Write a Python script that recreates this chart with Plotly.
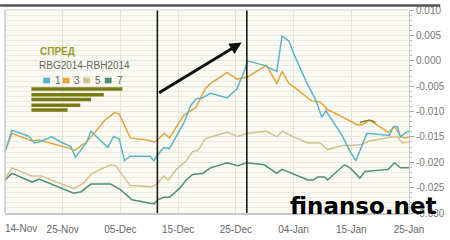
import plotly.graph_objects as go

# ---- data (x in trading-day units, tick every 10 units) ----
tick_pos = [0, 10, 20, 30, 40, 50, 60, 70]
tick_labels = ["14-Nov", "25-Nov", "05-Dec", "15-Dec", "25-Dec", "04-Jan", "15-Jan", "25-Jan"]

y_ticks = [0.010, 0.005, 0.0, -0.005, -0.010, -0.015, -0.020, -0.025, -0.030]
y_labels = ["0.010", "0.005", "0.000", "-0.005", "-0.010", "-0.015", "-0.020", "-0.025", "-0.030"]

s1_x = [0, 1.2, 4.2, 5.1, 5.9, 8.1, 9.7, 11.4, 12.2, 14.1, 14.9, 17.8, 18.8, 19.8, 20.7, 21.7,
        25.1, 25.8, 26.4, 27.5, 28.5, 29.7, 31.0, 32.2, 33.1, 34.2, 35.6, 38.5, 40.2, 41.5, 42.0,
        44.9, 47.1, 48.0, 49.2, 50.0, 52.2, 53.9, 54.9, 55.6, 58.5, 59.8, 60.8, 62.7, 66.6, 67.3,
        68.0, 68.5, 69.5, 70.0]
s1_y = [-0.0179, -0.0137, -0.0149, -0.0162, -0.0160, -0.0150, -0.0160, -0.0169, -0.0190, -0.0162,
        -0.0139, -0.0171, -0.0149, -0.0154, -0.0197, -0.0188, -0.0188, -0.0197, -0.0186, -0.0171,
        -0.0173, -0.0149, -0.0122, -0.0088, -0.0075, -0.0073, -0.0064, -0.0073, -0.0055, -0.0019,
        0.0000, -0.0009, -0.0021, 0.0049, 0.0039, 0.0015, -0.0041, -0.0079, -0.0111, -0.0098,
        -0.0149, -0.0179, -0.0197, -0.0143, -0.0147, -0.0130, -0.0130, -0.0150, -0.0141, -0.0139]

s3_x = [0, 1.2, 4.7, 5.9, 11.4, 12.0, 14.1, 15.3, 17.3, 19.0, 19.8, 21.7, 24.6, 25.9, 26.6, 27.6,
        28.5, 30.0, 31.0, 33.1, 34.7, 35.6, 38.5, 40.2, 42.0, 45.3, 47.1, 48.0, 49.2, 50.0, 53.1,
        54.6, 55.9, 58.5, 61.0, 61.9, 63.1, 63.6, 64.4, 66.4, 67.5, 68.6, 69.5, 70.0]
s3_y = [-0.0179, -0.0143, -0.0158, -0.0156, -0.0173, -0.0177, -0.0160, -0.0145, -0.0117, -0.0102,
        -0.0105, -0.0152, -0.0156, -0.0160, -0.0154, -0.0143, -0.0152, -0.0126, -0.0107, -0.0092,
        -0.0055, -0.0045, -0.0023, -0.0036, -0.0032, -0.0009, -0.0045, -0.0021, -0.0045, -0.0051,
        -0.0079, -0.0081, -0.0096, -0.0111, -0.0126, -0.0126, -0.0117, -0.0120, -0.0126, -0.0141,
        -0.0130, -0.0150, -0.0152, -0.0150]

s5_x = [0, 1.2, 4.6, 6.3, 11.9, 13.6, 14.9, 16.1, 18.3, 19.2, 21.7, 25.4, 26.3, 27.5, 28.3, 29.7,
        31.4, 32.5, 33.4, 34.7, 35.9, 38.5, 40.3, 42.0, 45.3, 47.1, 48.0, 50.0, 52.5, 54.6, 55.9,
        58.5, 59.8, 61.9, 63.1, 67.0, 68.0, 68.8, 70.0]
s5_y = [-0.0233, -0.0211, -0.0227, -0.0227, -0.0252, -0.0241, -0.0224, -0.0216, -0.0205, -0.0207,
        -0.0246, -0.0248, -0.0243, -0.0227, -0.0235, -0.0214, -0.0197, -0.0179, -0.0177, -0.0154,
        -0.0149, -0.0141, -0.0149, -0.0143, -0.0139, -0.0150, -0.0139, -0.0150, -0.0162, -0.0162,
        -0.0175, -0.0167, -0.0167, -0.0165, -0.0158, -0.0150, -0.0150, -0.0162, -0.0160]

s7_x = [0, 1.2, 4.7, 5.9, 11.9, 13.2, 14.9, 18.3, 20.0, 22.0, 25.8, 26.6, 27.6, 28.5, 30.2, 31.4,
        32.5, 34.2, 35.6, 38.5, 40.3, 41.9, 44.9, 47.1, 48.0, 50.0, 52.5, 53.4, 54.2, 55.4, 55.9,
        58.8, 59.8, 61.5, 62.4, 66.4, 67.5, 68.5, 70.0]
s7_y = [-0.0235, -0.0222, -0.0239, -0.0233, -0.0261, -0.0258, -0.0243, -0.0243, -0.0254, -0.0274,
        -0.0282, -0.0273, -0.0269, -0.0269, -0.0252, -0.0235, -0.0224, -0.0222, -0.0211, -0.0201,
        -0.0207, -0.0201, -0.0205, -0.0222, -0.0214, -0.0224, -0.0235, -0.0235, -0.0229, -0.0229,
        -0.0235, -0.0205, -0.0211, -0.0231, -0.0218, -0.0214, -0.0201, -0.0211, -0.0211]

olive_x = [61.5, 61.9, 63.1, 63.6, 64.2]
olive_y = [-0.0122, -0.0120, -0.0117, -0.0118, -0.0122]

marker_lines_x = [26.4, 41.9]

series = [("1", s1_x, s1_y, "#5ab4c8"), ("3", s3_x, s3_y, "#e3a43e"),
          ("5", s5_x, s5_y, "#d3c28f"), ("7", s7_x, s7_y, "#4f8f77")]

fig = go.Figure()
for name, xs, ys, col in [series[3], series[2], series[1], series[0]]:
    fig.add_trace(go.Scatter(x=xs, y=ys, mode="lines", name=name,
                             line=dict(color=col, width=1.5), showlegend=False))
fig.add_trace(go.Scatter(x=olive_x, y=olive_y, mode="lines",
                         line=dict(color="#8a8a1c", width=1.5), showlegend=False))

W, H, L, R, T, B = 450, 240, 5, 32, 5, 22
pw, ph = W - L - R, H - T - B
def px(xp):
    return (xp - L) / pw
def py(yp):
    return (H - B - yp) / ph

shapes = []
# black vertical marker lines
for xv in marker_lines_x:
    shapes.append(dict(type="line", xref="x", yref="paper", x0=xv, x1=xv, y0=0, y1=1,
                       line=dict(color="#1a1a1a", width=1.6)))
# top dark band
shapes.append(dict(type="rect", xref="paper", yref="paper", x0=px(0), x1=px(450),
                   y0=py(1.5), y1=py(-1), line=dict(width=0), fillcolor="#555555"))
# legend squares
leg_sq = [(44, "#5ab4c8"), (64, "#e3a43e"), (85, "#d3c28f"), (107, "#4f8f77")]
for x0, col in leg_sq:
    shapes.append(dict(type="rect", xref="paper", yref="paper", x0=px(x0), x1=px(x0 + 7),
                       y0=py(82), y1=py(76), line=dict(width=0), fillcolor=col))
# olive bars
bar_rows = [(88, 125), (94, 106), (99, 93), (105, 82), (110, 69)]
for yb, xe in bar_rows:
    shapes.append(dict(type="line", xref="paper", yref="paper", x0=px(32), x1=px(xe),
                       y0=py(yb), y1=py(yb), line=dict(color="#7a7a12", width=3.5)))

annotations = [
    dict(text="<b>СПРЕД</b>", xref="paper", yref="paper", x=px(39), y=py(49), xanchor="left",
         yanchor="middle", showarrow=False, font=dict(size=10, color="#9a9a2a", family="Liberation Sans")),
    dict(text="RBG2014-RBH2014", xref="paper", yref="paper", x=px(38), y=py(63), xanchor="left",
         yanchor="middle", showarrow=False, font=dict(size=10, color="#666666", family="Liberation Sans")),
    dict(text="14-Nov", xref="paper", yref="paper", x=px(3), y=py(234), xanchor="left",
         yanchor="middle", showarrow=False, font=dict(size=10, color="#666666", family="Liberation Sans")),
    dict(text="<b>finanso.net</b>", xref="paper", yref="paper", x=px(449), y=py(211), xanchor="right",
         yanchor="middle", showarrow=False, font=dict(size=23, color="#000000", family="DejaVu Sans")),
    dict(x=41.0, y=0.0036, xref="x", yref="y", ax=-84, ay=51, axref="pixel", ayref="pixel",
         text="", showarrow=True, arrowhead=2, arrowsize=0.8, arrowwidth=3, arrowcolor="#111111"),
]
for (x0, col), lbl in zip(leg_sq, ["1", "3", "5", "7"]):
    annotations.append(dict(text=lbl, xref="paper", yref="paper", x=px(x0 + 10), y=py(79),
                            xanchor="left", yanchor="middle", showarrow=False,
                            font=dict(size=10, color="#666666", family="Liberation Sans")))

fig.update_layout(
    width=W, height=H, margin=dict(l=L, r=R, t=T, b=B),
    paper_bgcolor="#ffffff", plot_bgcolor="#fbfbf3",
    shapes=shapes, annotations=annotations, showlegend=False,
    xaxis=dict(range=[0, 70], tickvals=tick_pos[1:], ticktext=tick_labels[1:],
               showgrid=True, gridcolor="#e2e2d6", gridwidth=1, zeroline=False,
               showline=True, linecolor="#c8c8c8", linewidth=2, mirror=False,
               ticks="", ticklabelstandoff=6,
               tickfont=dict(size=10, color="#666666", family="Liberation Sans")),
    yaxis=dict(range=[-0.030, 0.01002], side="right", tickvals=y_ticks, ticktext=y_labels,
               showgrid=True, gridcolor="#e6e6da", zeroline=False,
               showline=True, linecolor="#c8c8c8", linewidth=1,
               ticks="outside", ticklen=4, tickcolor="#aaaaaa", ticklabeloverflow="allow",
               minor=dict(dtick=0.001, showgrid=True, gridcolor="#ececE2", ticks="outside",
                          ticklen=2, tickcolor="#bbbbbb"),
               tickfont=dict(size=10, color="#777777", family="Liberation Sans")),
)
fig.add_shape(type="line", xref="paper", yref="paper", x0=0, x1=0, y0=0, y1=1,
              line=dict(color="#c8c8c8", width=1.5))
fig.add_shape(type="line", xref="paper", yref="paper", x0=0, x1=1, y0=1, y1=1,
              line=dict(color="#d0d0d0", width=1))

fig.write_html("out.html")
